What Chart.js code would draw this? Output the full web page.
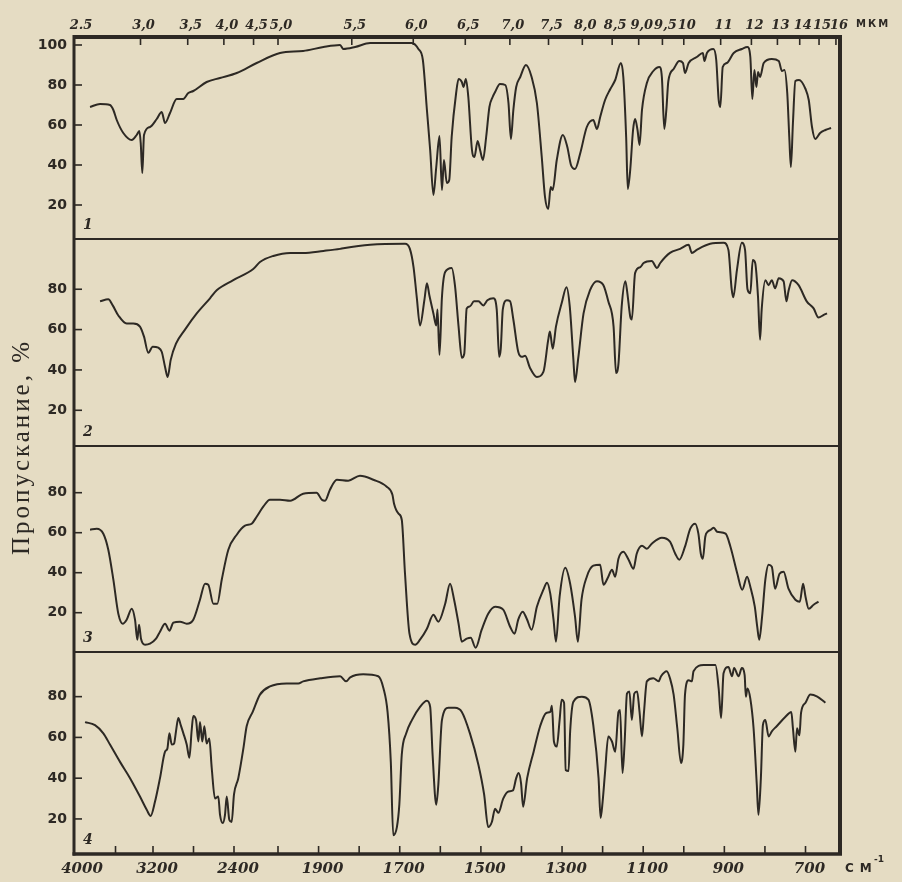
<!DOCTYPE html>
<html><head><meta charset="utf-8">
<script src="https://cdn.jsdelivr.net/npm/chart.js@4.4.1/dist/chart.umd.min.js"></script>
<style>
html,body{margin:0;padding:0;background:#e5dcc3;}
canvas{display:block;}
</style></head><body>
<canvas id="c" width="902" height="882"></canvas>
<script>
// ---------------- DATA ----------------
// [wavenumber cm^-1, transmittance %]
const spectrum1 = [[3872,69],[3765,70.5],[3659,70],[3623,67.5],[3587,62.5],[3517,56],[3427,52.5],[3374,55],[3346,57],[3331,51],[3314,36],[3296,55],[3232,59],[3163,63],[3114,66.5],[3081,61],[3032,66],[2966,73],[2901,73],[2851,76],[2802,77],[2670,81.5],[2538,83.5],[2375,86],[2194,91],[1995,96],[1938,97],[1888,99],[1847,100],[1839,98],[1810,99],[1773,101],[1707,101],[1670,101],[1654,98],[1643,92.5],[1633,67.5],[1625,47.5],[1617,25],[1610,39],[1602,54.5],[1596,27.5],[1591,42.5],[1584,31],[1578,32.5],[1572,54],[1561,76],[1555,83],[1547,81.5],[1543,79],[1537,83],[1531,74],[1522,47.5],[1516,44],[1508,52],[1502,47.5],[1495,42.5],[1487,54],[1479,69],[1471,74],[1465,76.5],[1453,80.5],[1440,80],[1432,71],[1426,53],[1420,67.5],[1413,79],[1403,84],[1389,90],[1375,84],[1362,71],[1350,44],[1342,24],[1334,18],[1328,29],[1323,27.5],[1313,42.5],[1298,55],[1287,49],[1278,40],[1268,38],[1255,46],[1239,59],[1223,62.5],[1214,58],[1206,64],[1194,72.5],[1181,78],[1169,82.5],[1155,91],[1149,84],[1142,54],[1138,28],[1132,37.5],[1125,57.5],[1120,63],[1114,57.5],[1109,50],[1103,67.5],[1091,81],[1075,87],[1060,89],[1054,84],[1048,58],[1043,67.5],[1038,82],[1025,88],[1011,92],[1002,91],[997,86],[988,91],[968,94],[953,96],[949,92],[943,96],[927,98],[920,92.5],[914,72.5],[910,69],[904,89],[894,91],[877,96],[857,98],[843,99],[836,94],[831,73],[826,87.5],[821,79],[817,86.5],[812,84],[803,91],[783,93],[766,92],[758,87],[752,87.5],[745,76],[740,54],[736,39],[731,61],[725,82],[716,82.5],[700,78],[692,72.5],[684,59],[676,53],[664,56],[651,57.5],[637,58.5]];

const spectrum2 = [[3765,74],[3677,75],[3630,72],[3570,67],[3481,63],[3410,63],[3339,61.5],[3296,56.5],[3250,48.5],[3203,51.5],[3148,51],[3114,49],[3081,41.5],[3055,36.5],[3025,45],[2973,53],[2884,60],[2768,68],[2637,75.5],[2571,79.5],[2407,84.5],[2225,90],[2164,93.5],[2043,96.5],[1970,98],[1938,98],[1888,99],[1847,100],[1839,100.3],[1773,102],[1687,102.5],[1675,100],[1666,91],[1658,76],[1650,62],[1639,75],[1633,83],[1627,77],[1617,68],[1610,62],[1607,70],[1602,47.5],[1596,76],[1588,88.5],[1572,90.5],[1564,82],[1555,61.5],[1547,46],[1541,48],[1535,70.5],[1527,71.5],[1517,74],[1506,74],[1494,72],[1484,74.5],[1469,75.5],[1461,70],[1455,46.5],[1451,50.5],[1446,70],[1436,74.5],[1428,74],[1420,65],[1408,49],[1399,46.5],[1391,47],[1379,41],[1362,36.5],[1346,39],[1334,55],[1330,59],[1323,50.5],[1315,61.5],[1301,73],[1289,81],[1281,71.5],[1272,45],[1268,34],[1260,46],[1247,68],[1231,79.5],[1214,84],[1198,82],[1186,74],[1173,61.5],[1167,38.5],[1161,43],[1153,71.5],[1144,84],[1139,78],[1132,66.5],[1128,65],[1120,88],[1107,91],[1099,93],[1079,94],[1066,90.5],[1058,93],[1034,98],[1009,100],[988,102],[980,98],[968,99.5],[935,102.5],[902,103],[890,99.5],[882,80],[878,76],[869,89.5],[857,103],[849,99.5],[843,80],[836,78],[830,94.5],[824,93],[817,76],[812,55],[808,70],[799,84.5],[791,82],[783,84.5],[775,80.5],[766,85.5],[754,84],[747,74],[742,79],[733,84.5],[717,82],[697,74],[680,70.5],[668,66],[655,67.3],[647,68]];

const spectrum3 = [[3872,61.5],[3801,62],[3730,59.5],[3677,51.5],[3623,36.5],[3570,19.5],[3523,14.5],[3481,16.5],[3427,22],[3392,16.5],[3367,6.5],[3349,14],[3328,7],[3285,4],[3232,4.5],[3170,7],[3131,10.5],[3081,14.5],[3038,11],[2999,15],[2933,15.5],[2867,14.5],[2802,16.5],[2736,26.5],[2686,34.5],[2654,34],[2604,24.5],[2565,24.5],[2521,36.5],[2456,51.5],[2375,59],[2300,63.5],[2239,64.5],[2194,68],[2134,73],[2073,76.5],[1995,76.5],[1970,76],[1938,79.5],[1905,80],[1892,76.5],[1884,76],[1872,81.5],[1855,86.5],[1827,86],[1798,88.5],[1765,86.5],[1732,83],[1718,79],[1714,74.5],[1703,69.5],[1695,66.5],[1687,39.5],[1676,9.5],[1662,4],[1650,6.5],[1633,12],[1617,19],[1605,15.5],[1588,24.5],[1576,34.5],[1566,26.5],[1555,14.5],[1547,5.5],[1535,7],[1525,7.5],[1513,2.5],[1498,11.5],[1482,19.5],[1465,23],[1445,21.5],[1428,13],[1417,9.5],[1408,16.5],[1397,20.5],[1387,17],[1375,11.5],[1362,23],[1346,31.5],[1337,35],[1329,29.5],[1321,16.5],[1315,5.5],[1306,28],[1292,42.5],[1280,34.5],[1268,18],[1261,5.5],[1252,26.5],[1239,38],[1223,43.5],[1206,44],[1198,34],[1186,38],[1177,41.5],[1169,38],[1161,47],[1149,50.5],[1136,46.5],[1124,42],[1116,49.5],[1103,53.5],[1091,52],[1079,54.5],[1054,57.5],[1034,55.5],[1021,49.5],[1011,46.5],[997,53],[984,62],[972,64.5],[964,59.5],[958,49.5],[953,47],[947,58],[941,60.5],[933,61.5],[926,62.5],[918,60.5],[897,59.5],[885,53],[868,39.5],[856,31.5],[844,38],[836,33],[825,23],[819,13],[814,6.5],[807,18],[799,36.5],[791,44],[783,43],[775,32],[764,39.5],[754,40.5],[742,32],[725,26.5],[714,25.5],[706,34.5],[700,28],[692,22],[680,24],[668,25.5]];

const spectrum4 = [[3925,67.5],[3819,66],[3730,62],[3659,56.5],[3552,48],[3445,40],[3339,31],[3267,24.5],[3225,21.5],[3180,28.5],[3131,40],[3081,53],[3058,54.5],[3038,62],[3015,56.5],[2992,57],[2973,63],[2950,69.5],[2926,66],[2900,62],[2867,56.5],[2841,50],[2818,63.5],[2802,70.5],[2775,68.5],[2752,58],[2736,67.5],[2713,58],[2693,65.5],[2670,57],[2644,59.5],[2620,45],[2588,30],[2555,31],[2538,22],[2511,18],[2489,22],[2472,31],[2446,19.5],[2423,18.5],[2400,32],[2361,40],[2315,54.5],[2285,65.5],[2230,72.5],[2164,81],[2073,85],[1979,86.5],[1950,86.5],[1938,87.5],[1896,89],[1847,90],[1832,87.5],[1822,89.5],[1790,91],[1753,90],[1740,84],[1730,72.5],[1722,48],[1716,12],[1707,16],[1701,27],[1695,51.5],[1684,62],[1670,68.5],[1650,75],[1633,78],[1625,75],[1619,51.5],[1610,27],[1605,36.5],[1596,68.5],[1580,74.5],[1564,74.5],[1547,72.5],[1527,62],[1506,46.5],[1492,32],[1482,16],[1473,18.5],[1465,25],[1457,23],[1445,30],[1432,33.5],[1421,34],[1413,40],[1407,42.5],[1401,37.5],[1396,26],[1386,40],[1370,53],[1354,65.5],[1339,72],[1329,72.5],[1325,75.5],[1320,58],[1313,55.5],[1306,68.5],[1301,78.5],[1295,77],[1291,44],[1284,43.5],[1280,63],[1272,77.5],[1251,80],[1235,78.5],[1223,66],[1210,40],[1205,20.5],[1200,28.5],[1194,43],[1186,60.5],[1177,58],[1169,53],[1161,72.5],[1157,73.5],[1151,42.5],[1146,56.5],[1140,81.5],[1134,82.5],[1128,68.5],[1122,81.5],[1115,82.5],[1109,72.5],[1103,60.5],[1098,72.5],[1091,87.5],[1075,89],[1062,87.5],[1056,90],[1042,92.5],[1034,89],[1025,81],[1016,64.5],[1007,47.5],[1001,56.5],[997,81],[988,88],[980,87.5],[976,92.5],[951,95.5],[922,95.5],[914,84],[908,69.5],[902,91.5],[890,94.5],[881,90],[876,94],[865,90],[857,94],[850,90.5],[847,80],[843,84],[836,79],[828,64.5],[820,36.5],[816,22],[810,40],[805,66],[799,68.5],[791,60.5],[783,63],[771,65.5],[750,70],[735,72.5],[731,64.5],[725,53],[721,64.5],[715,61],[711,72],[700,77],[688,81],[671,80],[651,77]];

const panelNumbers = ['1', '2', '3', '4'];
const yTickValues = [[20, 40, 60, 80, 100], [20, 40, 60, 80], [20, 40, 60, 80], [20, 40, 60, 80]];
const bottomTickValues = [4000, 3600, 3200, 2800, 2400, 2000, 1900, 1800, 1700, 1600, 1500, 1400, 1300, 1200, 1100, 1000, 900, 800, 700];
const bottomTickLabels = [4000, 3200, 2400, 1900, 1700, 1500, 1300, 1100, 900, 700];
const micronTicks = [2.5, 3, 3.5, 4, 4.5, 5, 5.5, 6, 6.5, 7, 7.5, 8, 8.5, 9, 9.5, 10, 11, 12, 13, 14, 15, 16];
const micronLabels = ['2.5', '3,0', '3,5', '4,0', '4,5', '5,0', '5,5', '6,0', '6,5', '7,0', '7,5', '8,0', '8,5', '9,0', '9,5', '10', '11', '12', '13', '14', '15', '16'];

// ---------------- SCALE CONFIG ----------------
// piecewise-linear wavenumber axis (grating change at 2000 cm-1)
const KNOT_WN = [4043, 3200, 2400, 2000, 615];
const KNOT_POS = [0, 79, 160, 204, 766];
const Y_RANGES = [[3, 104], [2.3, 104.9], [0.35, 103.35], [2.8, 101.9]];
const PANEL_WEIGHTS = [202, 207, 206, 202];
const INK = '#2d2924';

function wnToFrac(w) {
  let i = 0;
  while (i < KNOT_WN.length - 2 && w < KNOT_WN[i + 1]) i++;
  const p = KNOT_POS[i] + (KNOT_WN[i] - w) / (KNOT_WN[i] - KNOT_WN[i + 1]) * (KNOT_POS[i + 1] - KNOT_POS[i]);
  return p / KNOT_POS[KNOT_POS.length - 1];
}
function fracToWn(f) {
  const p = f * KNOT_POS[KNOT_POS.length - 1];
  let i = 0;
  while (i < KNOT_POS.length - 2 && p > KNOT_POS[i + 1]) i++;
  return KNOT_WN[i] - (p - KNOT_POS[i]) / (KNOT_POS[i + 1] - KNOT_POS[i]) * (KNOT_WN[i] - KNOT_WN[i + 1]);
}

const TICK_SETS = {
  x: bottomTickValues,
  xTop: micronTicks.map(u => 1e4 / u)
};

class IRScale extends Chart.Scale {
  static id = 'ir';
  static defaults = {};
  determineDataLimits() { this.min = KNOT_WN[KNOT_WN.length - 1]; this.max = KNOT_WN[0]; }
  buildTicks() { return (TICK_SETS[this.id] || []).map(v => ({ value: v })); }
  getLabelForValue(v) { return String(v); }
  getPixelForValue(v) { return this.left + this.width * wnToFrac(v); }
  getValueForPixel(p) { return fracToWn((p - this.left) / this.width); }
}
Chart.register(IRScale);

const framePlugin = {
  id: 'frame',
  afterDatasetsDraw(chart) {
    const ctx = chart.ctx, a = chart.chartArea;
    ctx.save();
    ctx.strokeStyle = INK; ctx.fillStyle = INK; ctx.lineCap = 'butt';
    const seg = (x1, y1, x2, y2, w) => { ctx.lineWidth = w; ctx.beginPath(); ctx.moveTo(x1, y1); ctx.lineTo(x2, y2); ctx.stroke(); };
    const ids = ['y1', 'y2', 'y3', 'y4'];
    // panel separators
    ids.slice(0, 3).forEach(id => { const s = chart.scales[id]; seg(a.left, s.bottom, a.right, s.bottom, 2); });
    // outer frame
    seg(a.left, a.top, a.right + 2, a.top, 4);
    seg(a.right, a.top, a.right, a.bottom, 4);
    seg(a.left - 1.5, a.bottom, a.right + 2, a.bottom, 3.5);
    seg(a.left, a.top - 2, a.left, a.bottom + 1.5, 3);
    // y ticks (inward)
    ids.forEach(id => {
      const s = chart.scales[id];
      s.ticks.forEach(t => { const y = s.getPixelForValue(t.value); seg(a.left, y, a.left + 8, y, 1.6); });
    });
    // x ticks (inward)
    chart.scales.x.ticks.forEach(t => {
      const x = chart.scales.x.getPixelForValue(t.value);
      if (x > a.left + 6 && x < a.right - 4) seg(x, a.bottom, x, a.bottom - 8, 1.6);
    });
    chart.scales.xTop.ticks.forEach(t => {
      const x = chart.scales.xTop.getPixelForValue(t.value);
      if (x > a.left + 6 && x < a.right - 2) seg(x, a.top, x, a.top + 8, 1.6);
    });
    // panel numbers
    ctx.font = 'italic bold 14px "DejaVu Serif"';
    ctx.textAlign = 'left'; ctx.textBaseline = 'middle';
    ids.forEach((id, i) => { const s = chart.scales[id]; ctx.fillText(panelNumbers[i], a.left + 9, s.bottom - 14); });
    // y axis title
    ctx.save();
    ctx.translate(22, 447);
    ctx.rotate(-Math.PI / 2);
    ctx.font = '25px "Liberation Serif"';
    ctx.letterSpacing = '3px';
    ctx.textAlign = 'center'; ctx.textBaseline = 'middle';
    ctx.fillText('Пропускание, %', 0, 0);
    ctx.restore();
    // unit labels
    ctx.font = 'bold 10px "DejaVu Sans"';
    ctx.letterSpacing = '2px';
    ctx.textAlign = 'left'; ctx.textBaseline = 'middle';
    ctx.fillText('МКМ', 856, 24);
    ctx.font = 'bold 12px "DejaVu Sans"';
    ctx.letterSpacing = '6px';
    ctx.fillText('СМ', 845, 869);
    ctx.letterSpacing = '0px';
    ctx.font = 'bold 9px "DejaVu Sans"';
    ctx.fillText('-1', 874, 860);
    ctx.restore();
  }
};

function yAxis(i) {
  return {
    type: 'linear', position: 'left', stack: 'panels', stackWeight: PANEL_WEIGHTS[i], weight: 4 - i,
    min: Y_RANGES[i][0], max: Y_RANGES[i][1],
    afterBuildTicks: s => { s.ticks = yTickValues[i].map(v => ({ value: v })); },
    afterFit: s => { s.width = 74; },
    grid: { display: false, drawTicks: false }, border: { display: false },
    ticks: { padding: 7, color: INK, font: { family: 'DejaVu Sans', size: 14, weight: 'bold' } }
  };
}

const xFont = { family: 'DejaVu Serif', size: 15, style: 'italic', weight: 'bold' };
const spectra = [spectrum1, spectrum2, spectrum3, spectrum4];

new Chart(document.getElementById('c'), {
  type: 'line',
  data: {
    datasets: spectra.map((sp, i) => ({
      data: sp.map(([x, y]) => ({ x, y })),
      xAxisID: 'x', yAxisID: 'y' + (i + 1),
      borderColor: INK, borderWidth: 2, pointRadius: 0, fill: false,
      cubicInterpolationMode: 'monotone'
    }))
  },
  options: {
    responsive: false, animation: false, events: [],
    layout: { padding: { left: 0, right: 62, top: 0, bottom: 0 } },
    plugins: { legend: { display: false }, tooltip: { enabled: false } },
    scales: {
      x: {
        type: 'ir', position: 'bottom',
        afterFit: s => { s.height = 28; },
        grid: { display: false, drawTicks: false }, border: { display: false },
        ticks: { autoSkip: false, maxRotation: 0, minRotation: 0, padding: 6, labelOffset: 4, color: INK, font: xFont,
          callback: v => bottomTickLabels.includes(v) ? String(v) : '' }
      },
      xTop: {
        type: 'ir', position: 'top',
        afterFit: s => { s.height = 37; },
        grid: { display: false, drawTicks: false }, border: { display: false },
        ticks: { autoSkip: false, maxRotation: 0, minRotation: 0, padding: 4, labelOffset: 3, color: INK,
          font: { family: 'DejaVu Serif', size: 13, style: 'italic', weight: 'bold' },
          callback: (v, idx) => micronLabels[idx] }
      },
      y1: yAxis(0), y2: yAxis(1), y3: yAxis(2), y4: yAxis(3)
    }
  },
  plugins: [framePlugin]
});
</script></body></html>
